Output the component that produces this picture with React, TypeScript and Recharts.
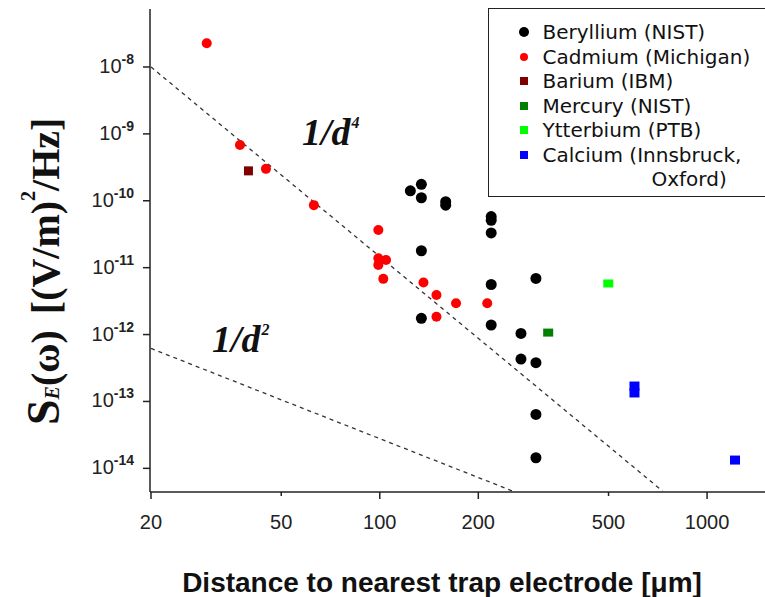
import { ScatterChart, Scatter, XAxis, YAxis, Legend, ReferenceDot } from 'recharts';

// distance to nearest electrode [um] vs electric field noise S_E(w) [(V/m)^2/Hz]
const beryllium = [
  { d: 124, s: 1.41e-10 }, { d: 134, s: 1.76e-10 }, { d: 134, s: 1.11e-10 },
  { d: 159, s: 9.7e-11 }, { d: 159, s: 8.6e-11 }, { d: 219, s: 5.8e-11 },
  { d: 219, s: 5.1e-11 }, { d: 219, s: 3.3e-11 }, { d: 134, s: 1.79e-11 },
  { d: 219, s: 5.6e-12 }, { d: 300, s: 6.9e-12 }, { d: 134, s: 1.75e-12 },
  { d: 219, s: 1.39e-12 }, { d: 270, s: 1.04e-12 }, { d: 270, s: 4.3e-13 },
  { d: 300, s: 3.8e-13 }, { d: 300, s: 6.4e-14 }, { d: 300, s: 1.44e-14 },
];
const cadmium = [
  { d: 29.6, s: 2.26e-8 }, { d: 37.4, s: 6.8e-10 }, { d: 44.9, s: 3.0e-10 },
  { d: 62.9, s: 8.6e-11 }, { d: 99, s: 3.65e-11 }, { d: 99, s: 1.38e-11 },
  { d: 104.5, s: 1.3e-11 }, { d: 99, s: 1.1e-11 }, { d: 102.5, s: 6.8e-12 },
  { d: 136, s: 6.0e-12 }, { d: 149, s: 3.9e-12 }, { d: 149, s: 1.85e-12 },
  { d: 171, s: 2.93e-12 }, { d: 213, s: 2.93e-12 },
];
const barium = [{ d: 39.7, s: 2.8e-10 }];
const mercury = [{ d: 327, s: 1.07e-12 }];
const ytterbium = [{ d: 499, s: 5.8e-12 }];
const calcium = [{ d: 600, s: 1.7e-13 }, { d: 600, s: 1.34e-13 }, { d: 1217, s: 1.33e-14 }];

// guide lines, end points
const lineD4 = [{ d: 20, s: 1e-8 }, { d: 730, s: 4.6e-15 }];
const lineD2 = [{ d: 20, s: 6.2e-13 }, { d: 254, s: 4.6e-15 }];
const labelD4 = { d: 57.85, s: 6.82e-10 };
const labelD2 = { d: 30.7, s: 5.48e-13 };

const xTicks = [20, 50, 100, 200, 500, 1000];
const yTicks = [1e-8, 1e-9, 1e-10, 1e-11, 1e-12, 1e-13, 1e-14];

const legendRows = [
  { name: 'Beryllium (NIST)', color: '#000000', kind: 'circle' },
  { name: 'Cadmium (Michigan)', color: '#ff0000', kind: 'dot' },
  { name: 'Barium (IBM)', color: '#800000', kind: 'square' },
  { name: 'Mercury (NIST)', color: '#008000', kind: 'square' },
  { name: 'Ytterbium (PTB)', color: '#00ff00', kind: 'square' },
  { name: 'Calcium (Innsbruck,', color: '#0000ff', kind: 'square' },
];

const SANS = '"Liberation Sans", Arial, sans-serif';
const SERIF = '"Liberation Serif", "Times New Roman", serif';
const AXIS = '#222';

const circle = (r: number, color: string) => (p: any) => (
  <circle cx={p.cx} cy={p.cy} r={r} fill={color} />
);
const square = (w: number, h: number, color: string) => (p: any) => (
  <rect x={p.cx - w / 2} y={p.cy - h / 2} width={w} height={h} fill={color} />
);

function YTick({ x, y, payload }: any) {
  const exp = Math.round(Math.log10(payload.value));
  return (
    <text x={x} y={y} dy={6} textAnchor="end" fontFamily={SANS} fontSize={20} fill="#222">
      10<tspan dy={-9} fontSize={14} fontWeight="bold">{exp}</tspan>
    </text>
  );
}

function XTick({ x, y, payload }: any) {
  const v = payload.value;
  const len = String(v)[0] === '5' ? 4 : 7;
  return (
    <g>
      <line x1={x} x2={x} y1={y} y2={y + len} stroke={AXIS} strokeWidth={1.5} />
      <text x={x} y={y + 37} textAnchor="middle" fontFamily={SANS} fontSize={20} fill="#222">
        {v}
      </text>
    </g>
  );
}

function PowerLabel({ viewBox, exp }: any) {
  return (
    <text x={viewBox.x} y={viewBox.y} fontFamily={SERIF} fontStyle="italic" fontWeight="bold" fontSize={38} fill="#111">
      1/d<tspan dx={1} dy={-17} fontSize={16}>{exp}</tspan>
    </text>
  );
}

function YTitle() {
  return (
    <text transform="translate(59, 425) rotate(-90)" fontFamily={SERIF} fontWeight="bold" fontSize={40} fill="#111">
      <tspan fontSize={46}>S</tspan>
      <tspan fontSize={20} fontStyle="italic">E</tspan>
      <tspan>(ω)</tspan>
      <tspan dx={16}>[(V/m)</tspan>
      <tspan fontSize={20} dy={-24}>2</tspan>
      <tspan dy={24}>/Hz]</tspan>
    </text>
  );
}

function XTitle() {
  return (
    <text x={442} y={592} textAnchor="middle" fontFamily={SANS} fontWeight="bold" fontSize={28} fill="#111">
      Distance to nearest trap electrode [μm]
    </text>
  );
}

function LegendBox() {
  const marker = (kind: string, color: string) => {
    if (kind === 'circle') return <span style={{ width: 10, height: 10, borderRadius: 5, background: color }} />;
    if (kind === 'dot') return <span style={{ width: 8, height: 8, borderRadius: 4, background: color }} />;
    return <span style={{ width: 8, height: 8, background: color }} />;
  };
  return (
    <div
      style={{
        width: 290,
        height: 189,
        boxSizing: 'border-box',
        border: `1.5px solid ${AXIS}`,
        background: '#fff',
        paddingTop: 11,
        fontFamily: '"DejaVu Sans", Verdana, sans-serif',
        fontSize: 20,
        color: '#111',
      }}
    >
      {legendRows.map((r) => (
        <div key={r.name} style={{ display: 'flex', alignItems: 'center', height: 24.5, paddingLeft: 27 }}>
          <span style={{ width: 15, display: 'flex', justifyContent: 'center' }}>{marker(r.kind, r.color)}</span>
          <span style={{ marginLeft: 11.5, whiteSpace: 'nowrap' }}>{r.name}</span>
        </div>
      ))}
      <div style={{ height: 24.5, lineHeight: '24.5px', paddingLeft: 162.5 }}>Oxford)</div>
    </div>
  );
}

export default function App() {
  return (
    <div style={{ position: 'absolute', left: 0, top: 0, width: 765, height: 597, overflow: 'hidden', background: '#fff' }}>
      <ScatterChart width={765} height={597} margin={{ top: 9, right: 0, bottom: 0, left: 0 }}>
        <XAxis
          dataKey="d"
          type="number"
          scale="log"
          domain={[19.86, 1503]}
          allowDataOverflow
          ticks={xTicks}
          height={105}
          tickSize={0}
          tickMargin={0}
          tickLine={false}
          tick={<XTick />}
          axisLine={{ stroke: AXIS, strokeWidth: 1.5 }}
          label={{ content: () => <XTitle /> }}
        />
        <XAxis
          xAxisId="top"
          orientation="top"
          type="number"
          domain={[19.86, 1503]}
          height={0}
          tick={false}
          tickLine={false}
          axisLine={{ stroke: AXIS, strokeWidth: 1.5 }}
        />
        <YAxis
          dataKey="s"
          type="number"
          scale="log"
          domain={[4.43e-15, 7.36e-8]}
          allowDataOverflow
          ticks={yTicks}
          width={150}
          tickSize={7}
          tickMargin={9}
          tickLine={{ stroke: AXIS, strokeWidth: 1.5 }}
          tick={<YTick />}
          axisLine={{ stroke: AXIS, strokeWidth: 1.5 }}
          label={{ content: () => <YTitle /> }}
        />
        <Legend
          layout="horizontal"
          verticalAlign="middle"
          align="center"
          wrapperStyle={{ left: 488, top: 8, width: 290 }}
          content={() => <LegendBox />}
        />
        <Scatter
          name="1/d^4"
          data={lineD4}
          line={{ stroke: '#333', strokeWidth: 1.3, strokeDasharray: '4 4' }}
          shape={() => <g />}
          legendType="none"
          isAnimationActive={false}
        />
        <Scatter
          name="1/d^2"
          data={lineD2}
          line={{ stroke: '#333', strokeWidth: 1.3, strokeDasharray: '4 4' }}
          shape={() => <g />}
          legendType="none"
          isAnimationActive={false}
        />
        <Scatter name="Beryllium (NIST)" data={beryllium} shape={circle(5.5, '#000000')} isAnimationActive={false} />
        <Scatter name="Cadmium (Michigan)" data={cadmium} shape={circle(5, '#ff0000')} isAnimationActive={false} />
        <Scatter name="Barium (IBM)" data={barium} shape={square(9, 9, '#800000')} isAnimationActive={false} />
        <Scatter name="Mercury (NIST)" data={mercury} shape={square(10, 8, '#008000')} isAnimationActive={false} />
        <Scatter name="Ytterbium (PTB)" data={ytterbium} shape={square(10, 8, '#00ff00')} isAnimationActive={false} />
        <Scatter name="Calcium (Innsbruck, Oxford)" data={calcium} shape={square(10, 9, '#0000ff')} isAnimationActive={false} />
        <ReferenceDot
          x={labelD4.d}
          y={labelD4.s}
          r={0}
          fill="none"
          stroke="none"
          label={{ content: (p: any) => <PowerLabel viewBox={p.viewBox} exp="4" /> }}
        />
        <ReferenceDot
          x={labelD2.d}
          y={labelD2.s}
          r={0}
          fill="none"
          stroke="none"
          label={{ content: (p: any) => <PowerLabel viewBox={p.viewBox} exp="2" /> }}
        />
      </ScatterChart>
    </div>
  );
}
